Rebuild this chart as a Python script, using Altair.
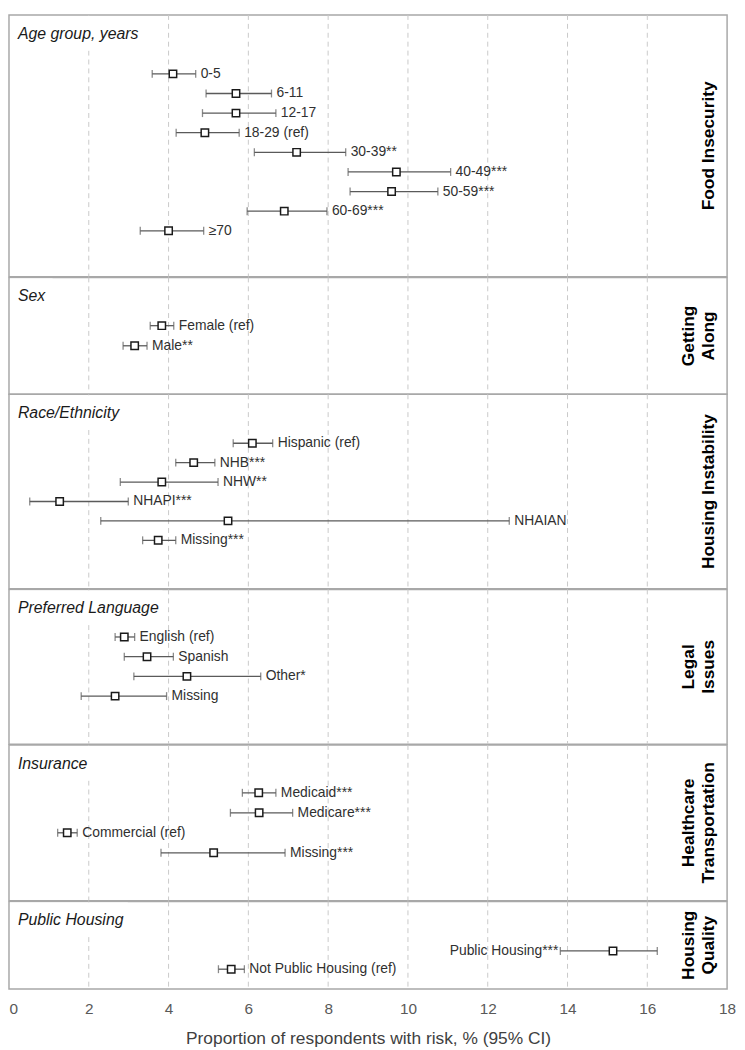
import altair as alt
import pandas as pd

FONT = "Liberation Sans"

# ---------------- data ----------------
age_labels = ["0-5", "6-11", "12-17", "18-29 (ref)", "30-39**", "40-49***", "50-59***", "60-69***", "≥70"]
age_est = [4.11, 5.69, 5.69, 4.91, 7.21, 9.71, 9.59, 6.90, 4.00]
age_lo = [3.59, 4.94, 4.85, 4.19, 6.15, 8.50, 8.55, 5.97, 3.29]
age_hi = [4.68, 6.58, 6.69, 5.77, 8.44, 11.07, 10.75, 7.97, 4.88]

sex_labels = ["Female (ref)", "Male**"]
sex_est = [3.83, 3.15]
sex_lo = [3.54, 2.86]
sex_hi = [4.13, 3.46]

race_labels = ["Hispanic (ref)", "NHB***", "NHW**", "NHAPI***", "NHAIAN", "Missing***"]
race_est = [6.10, 4.63, 3.83, 1.27, 5.49, 3.74]
race_lo = [5.62, 4.18, 2.79, 0.52, 2.30, 3.35]
race_hi = [6.61, 5.16, 5.24, 2.99, 12.54, 4.18]

lang_labels = ["English (ref)", "Spanish", "Other*", "Missing"]
lang_est = [2.89, 3.46, 4.46, 2.66]
lang_lo = [2.66, 2.89, 3.13, 1.81]
lang_hi = [3.15, 4.12, 6.31, 3.95]

ins_labels = ["Medicaid***", "Medicare***", "Commercial (ref)", "Missing***"]
ins_est = [6.26, 6.27, 1.46, 5.13]
ins_lo = [5.85, 5.55, 1.22, 3.81]
ins_hi = [6.69, 7.11, 1.71, 6.92]

ph_labels = ["Public Housing***", "Not Public Housing (ref)"]
ph_est = [15.14, 5.57]
ph_lo = [13.82, 5.25]
ph_hi = [16.25, 5.90]

panel_titles = ["Age group, years", "Sex", "Race/Ethnicity", "Preferred Language", "Insurance", "Public Housing"]
risk_lines = [["Food Insecurity"], ["Getting", "Along"], ["Housing Instability"], ["Legal", "Issues"],
              ["Healthcare", "Transportation"], ["Housing", "Quality"]]
label_left = ["Public Housing***"]  # labels written to the left of the interval

x_ticks = [0, 2, 4, 6, 8, 10, 12, 14, 16, 18]
grid_ticks = [2, 4, 6, 8, 10, 12, 14, 16]
x_title = "Proportion of respondents with risk, % (95% CI)"

# ---------------- layout (pixels) ----------------
panel_heights = [264.3, 118.0, 196.4, 156.3, 157.3, 88.4]
first_row_px = [59.5, 48.7, 49.4, 48.0, 48.3, 50.0]
row_step_px = [19.8, 20.3, 19.6, 19.9, 20.2, 18.4]
title_box_w = [136, 44, 116, 155, 84, 120]
W = 725
RISK_X_LAST = 712   # baseline of the last (right-most) line of the rotated label
RISK_LINE_GAP = 20

series = [
    (age_labels, age_est, age_lo, age_hi),
    (sex_labels, sex_est, sex_lo, sex_hi),
    (race_labels, race_est, race_lo, race_hi),
    (lang_labels, lang_est, lang_lo, lang_hi),
    (ins_labels, ins_est, ins_lo, ins_hi),
    (ph_labels, ph_est, ph_lo, ph_hi),
]

LINE_COL = "#5a5a5a"
TEXT_COL = "#303030"

grid_df = pd.DataFrame({"g": grid_ticks})


def make_panel(i, last):
    labels, est, lo, hi = series[i]
    df = pd.DataFrame({
        "row": list(range(len(labels))),
        "label": labels,
        "est": est,
        "lo": lo,
        "hi": hi,
        "side": ["left" if l in label_left else "right" for l in labels],
    })
    H = panel_heights[i]
    d0 = -first_row_px[i] / row_step_px[i]
    d1 = (H - first_row_px[i]) / row_step_px[i]

    if last:
        xaxis = alt.Axis(values=x_ticks, grid=False, domain=False, ticks=False, tickSize=0,
                         labelFontSize=15.5, labelColor="#595959", labelPadding=13, labelFont=FONT,
                         labelAlign={"condition": {"test": "datum.value === 0", "value": "left"},
                                     "value": "center"},
                         title=x_title, titleFontSize=17.5, titleFontWeight="normal",
                         titleColor="#404040", titlePadding=13, titleFont=FONT)
    else:
        xaxis = None
    xs = alt.Scale(domain=[0, 18], nice=False, zero=False)
    ys = alt.Scale(domain=[d0, d1], reverse=True, nice=False, zero=False)

    grid = alt.Chart(grid_df).mark_rule(color="#c9c9c9", strokeWidth=1, strokeDash=[5, 4]).encode(
        x=alt.X("g:Q", scale=xs, axis=xaxis)
    )
    one = pd.DataFrame({"k": [0]})
    box = alt.Chart(one).mark_rect(color="white").encode(
        x=alt.value(1), x2=alt.value(title_box_w[i]), y=alt.value(1), y2=alt.value(36)
    )
    title = alt.Chart(one).mark_text(align="left", baseline="middle", fontSize=16, fontStyle="italic",
                                     font=FONT, color="#1a1a1a").encode(
        x=alt.value(9), y=alt.value(19), text=alt.value(panel_titles[i])
    )
    layers = [grid, box, title]
    lines = risk_lines[i]
    n = len(lines)
    for j, line in enumerate(lines):
        layers.append(
            alt.Chart(one).mark_text(angle=270, align="center", baseline="alphabetic", fontSize=17.5,
                                     fontWeight="bold", font=FONT, color="#000000").encode(
                x=alt.value(RISK_X_LAST - (n - 1 - j) * RISK_LINE_GAP), y=alt.value(H / 2),
                text=alt.value(line)
            )
        )
    base = alt.Chart(df)
    bar = base.mark_rule(color=LINE_COL, strokeWidth=1.3).encode(
        x=alt.X("lo:Q", scale=xs), x2="hi:Q", y=alt.Y("row:Q", scale=ys, axis=None)
    )
    cap_lo = base.mark_tick(orient="vertical", size=8, thickness=1.3, color=LINE_COL).encode(
        x=alt.X("lo:Q", scale=xs), y=alt.Y("row:Q", scale=ys, axis=None)
    )
    cap_hi = base.mark_tick(orient="vertical", size=8, thickness=1.3, color=LINE_COL).encode(
        x=alt.X("hi:Q", scale=xs), y=alt.Y("row:Q", scale=ys, axis=None)
    )
    sq = base.mark_square(size=56, filled=True, fill="white", stroke="#1a1a1a", strokeWidth=1.5,
                          opacity=1).encode(
        x=alt.X("est:Q", scale=xs), y=alt.Y("row:Q", scale=ys, axis=None)
    )
    lab_r = base.transform_filter(alt.datum.side == "right").mark_text(
        align="left", baseline="middle", dx=5, fontSize=14, font=FONT, color=TEXT_COL).encode(
        x=alt.X("hi:Q", scale=xs), y=alt.Y("row:Q", scale=ys, axis=None), text="label:N"
    )
    lab_l = base.transform_filter(alt.datum.side == "left").mark_text(
        align="right", baseline="middle", dx=-2, fontSize=14, font=FONT, color=TEXT_COL).encode(
        x=alt.X("lo:Q", scale=xs), y=alt.Y("row:Q", scale=ys, axis=None), text="label:N"
    )
    layers += [bar, cap_lo, cap_hi, sq, lab_r, lab_l]
    return alt.layer(*layers).properties(width=W, height=H)


panels = [make_panel(i, i == len(series) - 1) for i in range(len(series))]

chart = alt.vconcat(*panels, spacing=0, bounds="flush").properties(
    padding={"left": 0, "top": 0, "right": 0, "bottom": 0}
).configure_view(stroke="#a8a8a8", strokeWidth=1.5).configure_text(font=FONT)

chart.save("out.html", embed_options={"renderer": "svg", "actions": False})
